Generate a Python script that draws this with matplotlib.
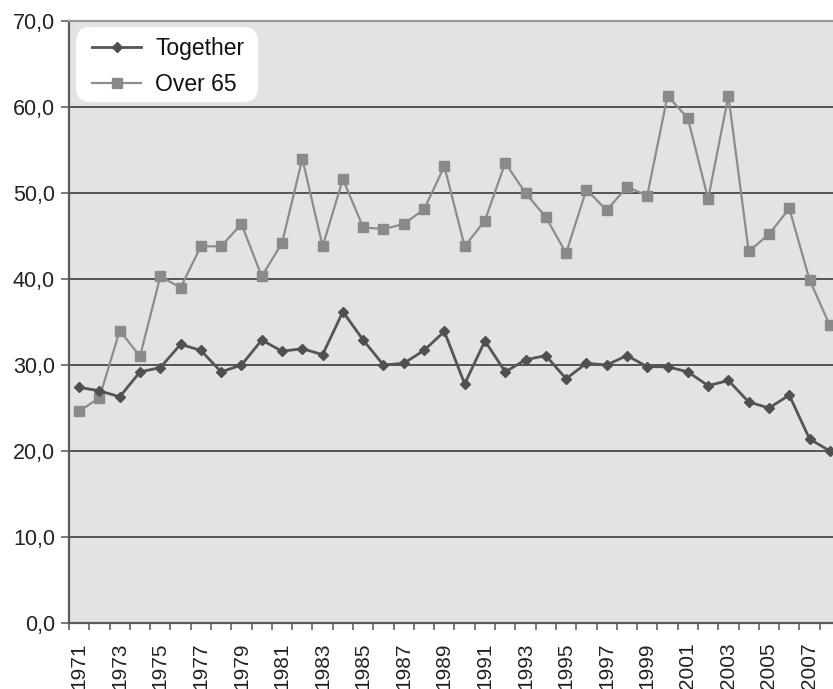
import matplotlib
matplotlib.use("Agg")
import matplotlib.pyplot as plt
from matplotlib.ticker import FixedLocator, FuncFormatter
from matplotlib.patches import FancyBboxPatch

plt.rcParams['font.family'] = ['Liberation Sans', 'DejaVu Sans']

years = list(range(1971, 2009))
together = [27.4, 27.0, 26.3, 29.2, 29.7, 32.4, 31.7, 29.2, 30.0, 32.9,
            31.6, 31.9, 31.2, 36.2, 32.9, 30.0, 30.2, 31.7, 33.9, 27.8,
            32.8, 29.2, 30.6, 31.1, 28.4, 30.2, 30.0, 31.1, 29.8, 29.8,
            29.2, 27.6, 28.2, 25.7, 25.0, 26.5, 21.4, 20.0]
over65 = [24.6, 26.2, 34.0, 31.0, 40.3, 39.0, 43.8, 43.8, 46.4, 40.3,
          44.2, 54.0, 43.8, 51.6, 46.0, 45.8, 46.4, 48.1, 53.1, 43.8,
          46.8, 53.5, 50.0, 47.2, 43.0, 50.4, 48.0, 50.7, 49.7, 61.3,
          58.7, 49.3, 61.3, 43.2, 45.2, 48.2, 39.9, 34.6]
series_names = ["Together", "Over 65"]
yticks = [0, 10, 20, 30, 40, 50, 60, 70]

W, H = 833, 689
fig = plt.figure(figsize=(W / 100, H / 100), dpi=100)
ax = fig.add_axes([69 / W, 66 / H, 771 / W, 602 / H])
ax.set_facecolor('#e2e4e4')

xpos = list(range(1, len(years) + 1))
ax.plot(xpos, together, color='#555555', lw=2.0, marker='D', ms=5.5,
        mfc='#505050', mec='#505050', label=series_names[0], zorder=4)
ax.plot(xpos, over65, color='#8c8c8c', lw=1.6, marker='s', ms=6.6,
        mfc='#8a8a8a', mec='#8a8a8a', label=series_names[1], zorder=3)

ax.set_xlim(0.5, len(years) + 0.5)
ax.set_ylim(0, 70)

ax.yaxis.set_major_locator(FixedLocator(yticks))
ax.yaxis.set_major_formatter(FuncFormatter(lambda v, p: f"{v:.1f}".replace('.', ',')))
ax.grid(axis='y', color='#484848', lw=1.3, zorder=1)
ax.set_axisbelow(True)
ax.yaxis.get_gridlines()[-1].set_visible(False)

label_pos = xpos[::2]
ax.set_xticks(label_pos)
ax.set_xticklabels([str(y) for y in years[::2]], rotation=90)
ax.set_xticks([x - 0.5 for x in xpos] + [len(years) + 0.5], minor=True)
ax.tick_params(axis='x', which='major', length=0, pad=14, labelsize=15, labelcolor='#222222')
ax.tick_params(axis='x', which='minor', length=5, width=1.1, color='#555555', direction='out')
ax.tick_params(axis='y', which='major', length=6, width=1.1, color='#555555', pad=4,
               labelsize=15.5, labelcolor='#222222')

ax.spines['right'].set_visible(False)
ax.spines['left'].set_color('#5a5a5a')
ax.spines['left'].set_linewidth(1.6)
ax.spines['bottom'].set_color('#5a5a5a')
ax.spines['bottom'].set_linewidth(1.6)
ax.spines['top'].set_color('#9a9a9a')
ax.spines['top'].set_linewidth(1.6)

# legend background (rounded white box)
box = FancyBboxPatch((76 / W, 1 - 102 / H), 182 / W, 75 / H,
                     boxstyle='round,pad=0,rounding_size=0.018',
                     transform=fig.transFigure, facecolor='white', edgecolor='none',
                     zorder=5, mutation_aspect=W / H, clip_on=False)
ax.add_artist(box)

leg = ax.legend(loc='upper left', bbox_to_anchor=(92 / W, 1 - 37 / H),
                bbox_transform=fig.transFigure, borderaxespad=0, borderpad=0,
                fontsize=16.5, handlelength=2.15, handletextpad=0.6, labelspacing=0.57,
                frameon=False)
leg.set_zorder(6)
for t in leg.get_texts():
    t.set_color('#111111')

fig.savefig('out.png', dpi=100)
